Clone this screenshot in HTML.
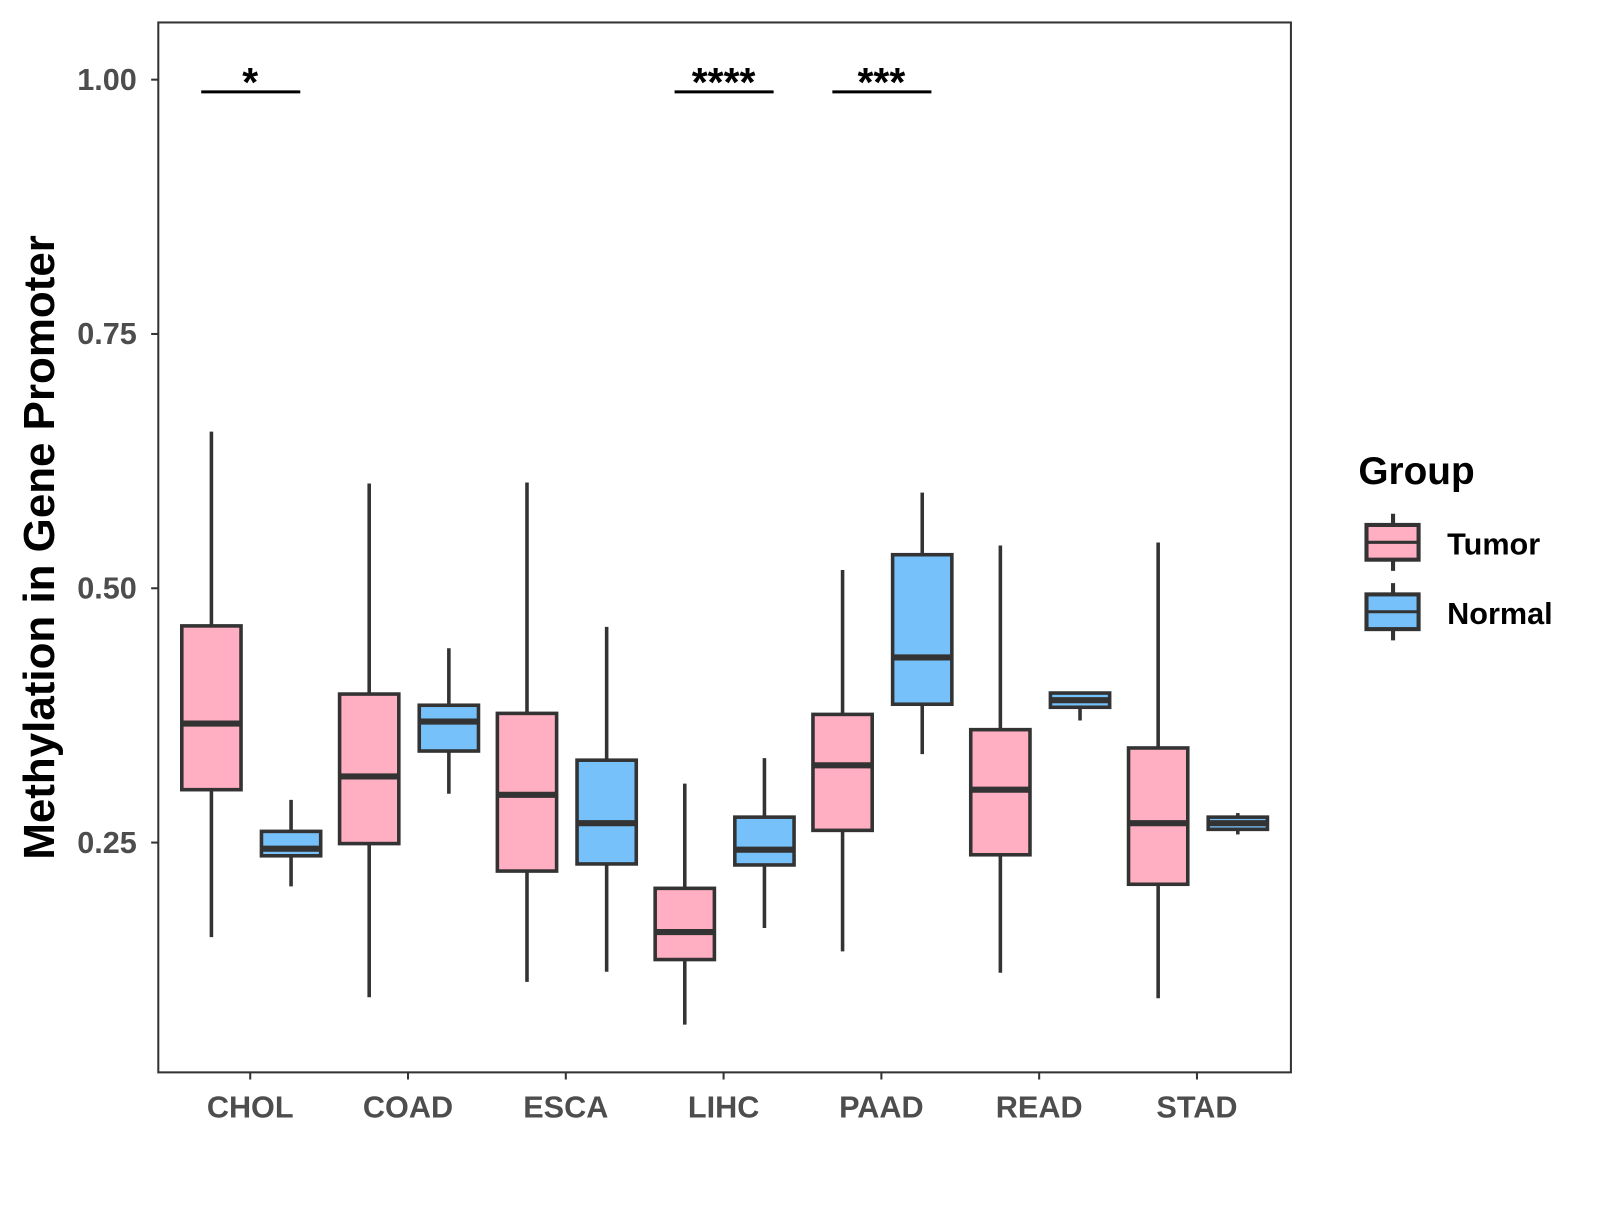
<!DOCTYPE html>
<html><head><meta charset="utf-8"><style>
body{margin:0;background:#fff}
svg text{font-family:"Liberation Sans",Arial,sans-serif;font-weight:bold}
</style></head><body>
<svg id="chart" width="1600" height="1200" viewBox="0 0 1600 1200" xmlns="http://www.w3.org/2000/svg">
<g transform="scale(1.0213)">
<rect x="155" y="22" width="1109" height="1028" fill="#fff" stroke="#333" stroke-width="2"/>
<g id="marks"></g>
<text transform="translate(53,536) rotate(-90)" text-anchor="middle" font-size="43" fill="#000">Methylation in Gene Promoter</text>
<g>
<text x="1330" y="474" font-size="38" fill="#000">Group</text>
<line x1="1364" y1="503" x2="1364" y2="559" stroke="#333" stroke-width="4"/>
<rect x="1338" y="514" width="51" height="34" fill="#FFAFC1" stroke="#333" stroke-width="4"/>
<line x1="1338" y1="531" x2="1389" y2="531" stroke="#333" stroke-width="3"/>
<text x="1417" y="543" font-size="30" fill="#000">Tumor</text>
<line x1="1364" y1="571" x2="1364" y2="627" stroke="#333" stroke-width="4"/>
<rect x="1338" y="582" width="51" height="34" fill="#76C1F9" stroke="#333" stroke-width="4"/>
<line x1="1338" y1="599" x2="1389" y2="599" stroke="#333" stroke-width="3"/>
<text x="1417" y="611" font-size="30" fill="#000">Normal</text>
</g>
</g>
</svg>
<script>
const categories=["CHOL","COAD","ESCA","LIHC","PAAD","READ","STAD"];
// [low, q1, median, q3, high]
const tumorStats=[[0.157,0.302,0.367,0.463,0.654],[0.098,0.249,0.315,0.396,0.603],[0.113,0.222,0.297,0.377,0.604],[0.071,0.135,0.162,0.205,0.308],[0.143,0.262,0.326,0.376,0.518],[0.122,0.238,0.302,0.361,0.542],[0.097,0.209,0.269,0.343,0.545]];
const normalStats=[[0.207,0.237,0.244,0.261,0.292],[0.298,0.340,0.369,0.385,0.441],[0.123,0.229,0.269,0.331,0.462],[0.166,0.228,0.243,0.275,0.333],[0.337,0.386,0.432,0.533,0.594],[0.370,0.383,0.390,0.397,0.398],[0.258,0.263,0.269,0.275,0.279]];
const yTicks=[0.25,0.50,0.75,1.00];
const yTickLabels=["0.25","0.50","0.75","1.00"];
const sigCategories=["CHOL","LIHC","PAAD"];
const sigLabels=["*","****","***"];
const sigLevel=0.988;

const NS="http://www.w3.org/2000/svg";
const g=document.getElementById('marks');
const y=v=>78+(1-v)*996;
const x=i=>245+i*154.5;
function mk(t,a){const e=document.createElementNS(NS,t);for(const k in a)e.setAttribute(k,a[k]);g.appendChild(e);return e;}

yTicks.forEach((v,i)=>{
  const l=mk('line',{x1:148,x2:155,y1:y(v),y2:y(v),stroke:'#333','stroke-width':2});
  
  
  const t=mk('text',{x:134,y:y(v)+10,'text-anchor':'end','font-size':30,fill:'#4d4d4d'});
  
  
  t.textContent=yTickLabels[i];
});
categories.forEach((c,i)=>{
  const l=mk('line',{x1:x(i),x2:x(i),y1:1050,y2:1057,stroke:'#333','stroke-width':2});
  
  
  const t=mk('text',{x:x(i),y:1094,'text-anchor':'middle','font-size':30,fill:'#4d4d4d'});
  
  
  t.textContent=c;
});
function box(cx,s,fill,name){
  const w=58;
  const wl=mk('line',{x1:cx,x2:cx,y1:y(s[4]),y2:y(s[0]),stroke:'#333','stroke-width':3.5});
  
  
  const r=mk('rect',{x:cx-w/2,y:y(s[3]),width:w,height:Math.max(1,y(s[1])-y(s[3])),fill:fill,stroke:'#333','stroke-width':3.5});
  
  
  const m=mk('line',{x1:cx-w/2,x2:cx+w/2,y1:y(s[2]),y2:y(s[2]),stroke:'#333','stroke-width':6});
  
  
}
categories.forEach((c,i)=>{
  box(x(i)-38,tumorStats[i],'#FFAFC1',c.toLowerCase()+'-tumor');
  box(x(i)+40,normalStats[i],'#76C1F9',c.toLowerCase()+'-normal');
});
sigCategories.forEach((c,k)=>{
  const i=categories.indexOf(c);
  const l=mk('line',{x1:x(i)-48,x2:x(i)+49,y1:y(sigLevel),y2:y(sigLevel),stroke:'#000','stroke-width':3});
  
  
  const t=mk('text',{x:x(i),y:y(sigLevel)+4,'text-anchor':'middle','font-size':40,fill:'#000'});
  
  
  t.textContent=sigLabels[k];
});
</script>
</body></html>
